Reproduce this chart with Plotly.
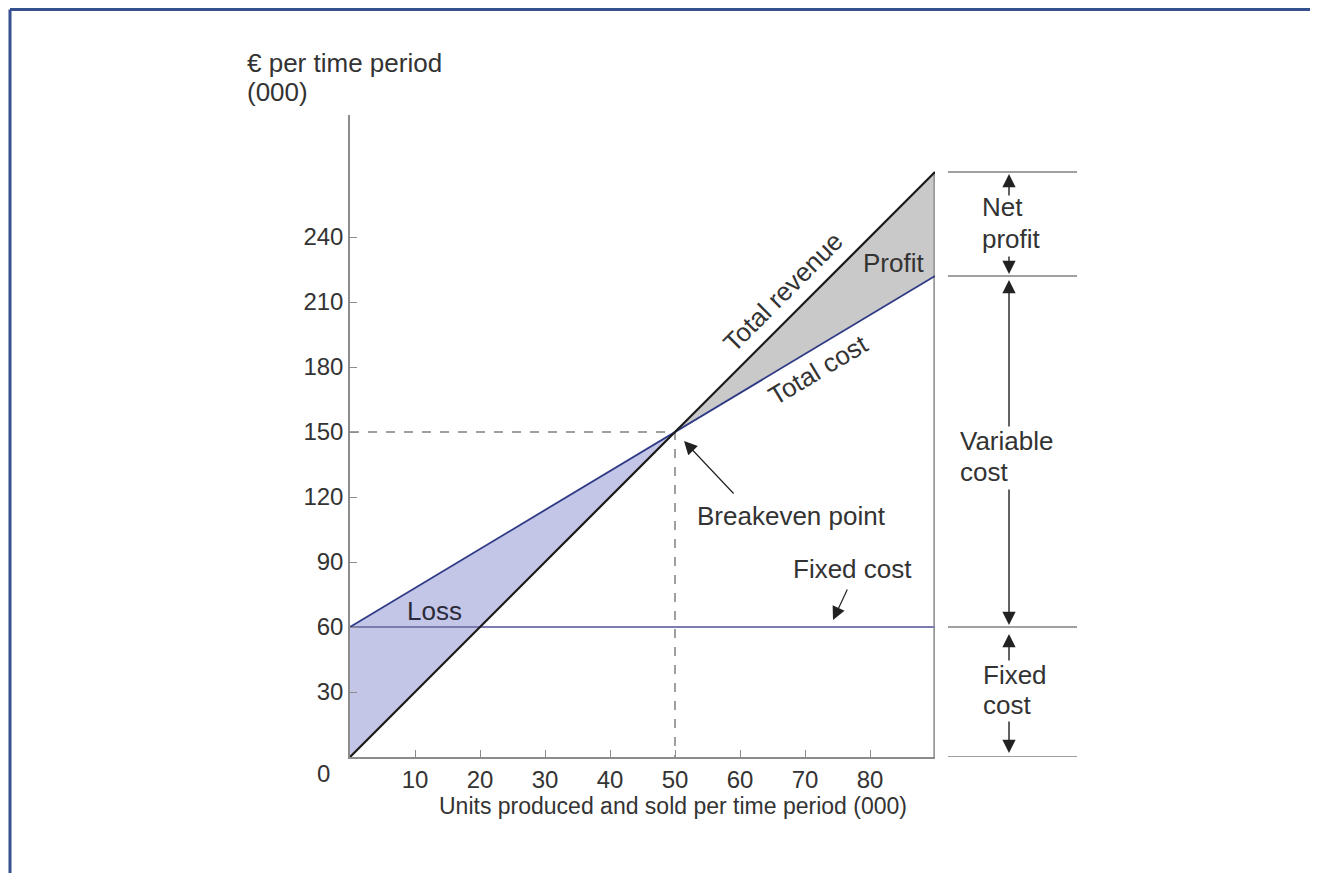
import plotly.graph_objects as go

# ---- data (thousands) ----
units = [0, 50, 90]                 # units produced and sold (000)
total_revenue = [0, 150, 270]       # € (000)
total_cost = [60, 150, 222]         # € (000)
fixed_cost = [60, 60, 60]           # € (000)
x_ticks = [10, 20, 30, 40, 50, 60, 70, 80]
y_ticks = [30, 60, 90, 120, 150, 180, 210, 240]
break_even_units = 50
break_even_value = 150

W, H = 1318, 873
OFF = 8  # page body margin offset
FONT = "Liberation Sans, Arial, Helvetica, sans-serif"
TXT = "#333333"
AX = "#8c8c8c"

def PX(px):
    return (px - OFF) / W

def PY(py):
    return 1 - (py - OFF) / H

# pixel geometry of the plot frame (page coordinates)
X0, X90 = 350, 935
Y0 = 757
YTOP = 115
x_dom = [PX(X0), PX(X90)]
y_dom = [PY(Y0), PY(YTOP)]
y_max = (Y0 - YTOP) / (65 / 30)
x2_dom = [PX(948), PX(1077)]

fig = go.Figure()

# loss area (between cost and revenue, left of breakeven)
fig.add_trace(go.Scatter(x=units[:2], y=total_revenue[:2], mode="lines",
                         line=dict(width=0), showlegend=False, hoverinfo="skip"))
fig.add_trace(go.Scatter(x=units[:2], y=total_cost[:2], mode="lines",
                         line=dict(width=0), fill="tonexty", fillcolor="#c4c6e7",
                         showlegend=False, hoverinfo="skip"))
# profit area
fig.add_trace(go.Scatter(x=units[1:], y=total_revenue[1:], mode="lines",
                         line=dict(width=0), showlegend=False, hoverinfo="skip"))
fig.add_trace(go.Scatter(x=units[1:], y=total_cost[1:], mode="lines",
                         line=dict(width=0), fill="tonexty", fillcolor="#c9c9c9",
                         showlegend=False, hoverinfo="skip"))

# breakeven dashed guides
fig.add_trace(go.Scatter(x=[0, break_even_units, break_even_units],
                         y=[break_even_value, break_even_value, 0], mode="lines",
                         line=dict(color="#808080", width=1.5, dash="dash"),
                         showlegend=False, hoverinfo="skip"))
# right boundary at max output
fig.add_trace(go.Scatter(x=[units[-1], units[-1]], y=[0, total_revenue[-1]], mode="lines",
                         line=dict(color="#9a9a9a", width=3.5),
                         showlegend=False, hoverinfo="skip"))
# fixed cost line
fig.add_trace(go.Scatter(x=units, y=fixed_cost, mode="lines",
                         line=dict(color="#7c7cae", width=2),
                         showlegend=False, hoverinfo="skip"))
# total cost line
fig.add_trace(go.Scatter(x=units, y=total_cost, mode="lines",
                         line=dict(color="#2f3a86", width=1.8),
                         showlegend=False, hoverinfo="skip"))
# total revenue line
fig.add_trace(go.Scatter(x=units, y=total_revenue, mode="lines",
                         line=dict(color="#1a1a1a", width=2.2),
                         showlegend=False, hoverinfo="skip"))

# right-side bracket levels
levels = [total_revenue[-1], total_cost[-1], fixed_cost[-1], 0]
for lv in levels:
    fig.add_trace(go.Scatter(x=[0, 1], y=[lv, lv], mode="lines", xaxis="x2", yaxis="y",
                             line=dict(color="#808080", width=1.5),
                             showlegend=False, hoverinfo="skip"))

ann = []
def txt(text, px, py, size=26, xanchor="center", angle=0, color=TXT):
    ann.append(dict(text=text, x=PX(px), y=PY(py), xref="paper", yref="paper",
                    showarrow=False, xanchor=xanchor, yanchor="middle",
                    textangle=angle, font=dict(family=FONT, size=size, color=color)))

# axis titles
txt("€ per time period", 245, 63, xanchor="left")
txt("(000)", 245, 92, xanchor="left")
txt("Units produced and sold per time period (000)", 673, 806, size=23)
txt("0", 323, 773, size=24)

# in-chart labels
txt("Loss", 435, 611, color="#2a2a3a")
txt("Profit", 893, 263)
txt("Total revenue", 783, 292, angle=-45)
txt("Total cost", 818, 370, angle=-31)
txt("Breakeven point", 791, 516)
txt("Fixed cost", 853, 569)

# right labels
txt("Net", 980, 207, xanchor="left")
txt("profit", 980, 239, xanchor="left")
txt("Variable", 958, 441, xanchor="left")
txt("cost", 958, 472, xanchor="left")
txt("Fixed", 981, 675, xanchor="left")
txt("cost", 981, 705, xanchor="left")

def arrow(px, py, ax, ay, width=1.2, size=2.2):
    ann.append(dict(x=PX(px), y=PY(py), xref="paper", yref="paper", text="",
                    showarrow=True, arrowhead=2, arrowsize=size, arrowwidth=width,
                    arrowcolor="#222222", ax=ax, ay=ay))

arrow(684, 441, 51, 54)
arrow(833, 620, 15, -32)

XA = 1009
def varrow(lv, ay, standoff=0):
    ann.append(dict(x=(XA - 948) / 129, y=lv, xref="x2", yref="y", text="",
                    showarrow=True, arrowhead=2, arrowsize=1.9, arrowwidth=1.4,
                    arrowcolor="#222222", ax=0, ay=ay, standoff=standoff))

varrow(total_revenue[-1], 25, 2)
varrow(total_cost[-1], -21, 2)
varrow(total_cost[-1], 152, 4)
varrow(fixed_cost[-1], -139, 2)
varrow(fixed_cost[-1], 35, 7)
varrow(0, -37, 4)

shapes = [
    dict(type="line", xref="paper", yref="paper", x0=PX(10), x1=1, y0=PY(9.5), y1=PY(9.5),
         line=dict(color="#34508e", width=3)),
    dict(type="line", xref="paper", yref="paper", x0=PX(10), x1=PX(10), y0=0, y1=PY(9.5),
         line=dict(color="#34508e", width=3)),
]

fig.update_layout(
    width=W, height=H,
    margin=dict(l=0, r=0, t=0, b=0),
    paper_bgcolor="white", plot_bgcolor="white",
    showlegend=False,
    annotations=ann, shapes=shapes,
    xaxis=dict(domain=x_dom, range=[0, units[-1]], anchor="y",
               showline=True, linecolor=AX, linewidth=1.5,
               showgrid=False, zeroline=False,
               tickmode="array", tickvals=x_ticks, ticks="inside", ticklen=7,
               tickcolor=AX, tickwidth=1.2,
               tickfont=dict(family=FONT, size=24, color=TXT)),
    yaxis=dict(domain=y_dom, range=[0, y_max], anchor="x",
               showline=True, linecolor=AX, linewidth=1.5,
               showgrid=False, zeroline=False,
               tickmode="array", tickvals=y_ticks, ticks="inside", ticklen=7,
               tickcolor=AX, tickwidth=1.2,
               tickfont=dict(family=FONT, size=24, color=TXT)),
    xaxis2=dict(domain=x2_dom, range=[0, 1], anchor="y", visible=False,
                showgrid=False, zeroline=False),
)

fig.write_html("out.html")
